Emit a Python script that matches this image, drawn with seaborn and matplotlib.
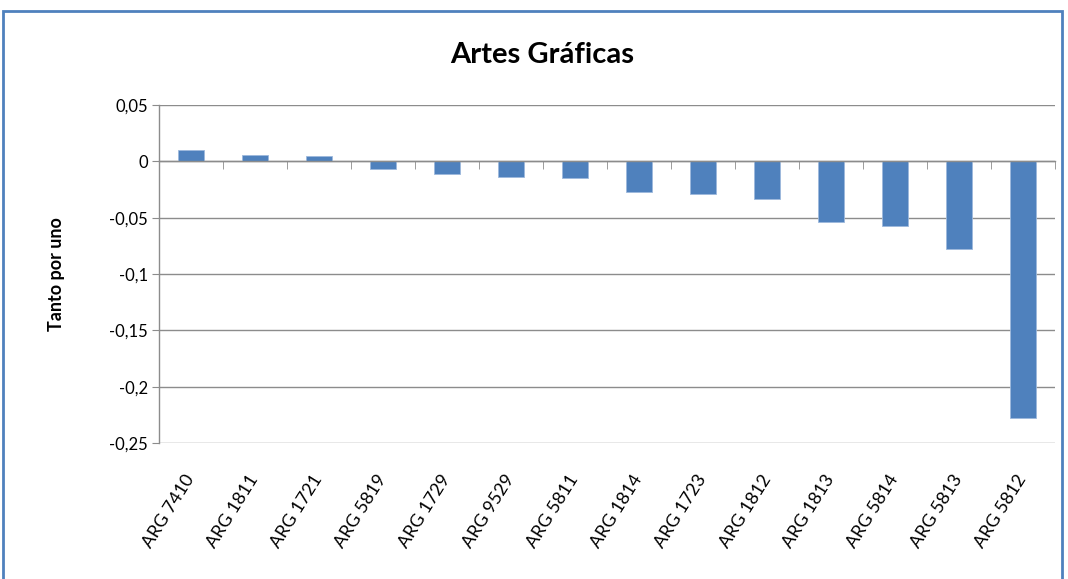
import matplotlib
matplotlib.use("Agg")
import matplotlib.pyplot as plt
from matplotlib.patches import Rectangle
from matplotlib.ticker import FuncFormatter, FixedLocator
import seaborn as sns
import pandas as pd

# ==========================
# DATA
# ==========================

empresas = ["ARG 7410", "ARG 1811", "ARG 1721", "ARG 5819", "ARG 1729",
            "ARG 9529", "ARG 5811", "ARG 1814", "ARG 1723", "ARG 1812",
            "ARG 1813", "ARG 5814", "ARG 5813", "ARG 5812"]
tanto_por_uno = [0.0098, 0.0053, 0.0045, -0.0070, -0.0113,
                 -0.0136, -0.0145, -0.0275, -0.0287, -0.0337,
                 -0.0540, -0.0570, -0.0775, -0.2275]
y_ticks = [0.05, 0, -0.05, -0.1, -0.15, -0.2, -0.25]

df = pd.DataFrame({"empresa": empresas, "valor": tanto_por_uno})

# ==========================
# PLOT
# ==========================

sns.set_style("white")
plt.rcParams["font.family"] = ["Lato", "DejaVu Sans"]
plt.rcParams["text.color"] = "black"
plt.rcParams["axes.labelcolor"] = "black"
plt.rcParams["xtick.color"] = "black"
plt.rcParams["ytick.color"] = "black"

fig = plt.figure(figsize=(10.68, 5.79), dpi=100)
ax = fig.add_axes([0.1489, 0.2349, 0.8390, 0.5838])

sns.barplot(data=df, x="empresa", y="valor", color="#4F81BD",
            width=0.41, edgecolor="#9DB9DC", linewidth=0.6,
            saturation=1, ax=ax, zorder=3)

ax.set_xlim(-0.5, len(empresas) - 0.5)
ax.set_ylim(min(y_ticks), max(y_ticks))
ax.set_yticks(y_ticks)
ax.yaxis.set_major_formatter(
    FuncFormatter(lambda v, p: "0" if abs(v) < 1e-9 else f"{v:g}".replace(".", ",")))
ax.grid(axis="y", color="#8C8C8C", linewidth=1, zorder=0)
ax.tick_params(axis="y", direction="out", length=5, color="#8C8C8C",
               labelcolor="black", labelsize=12, pad=3, left=True)

for s in ["top", "right"]:
    ax.spines[s].set_visible(False)
ax.spines["left"].set_color("#8C8C8C")
ax.spines["left"].set_linewidth(1)

# eje de categorías cruzando en cero
ax.spines["bottom"].set_position(("data", 0))
ax.spines["bottom"].set_color("#8C8C8C")
ax.spines["bottom"].set_linewidth(1)
ax.spines["bottom"].set_zorder(4)
ax.xaxis.set_minor_locator(FixedLocator([i + 0.5 for i in range(len(empresas))]))
ax.tick_params(axis="x", which="minor", direction="out", length=6,
               color="#8C8C8C", bottom=True)
ax.tick_params(axis="x", which="major", length=0, labelbottom=False)
ax.set_xlabel("")

# etiquetas de categorías abajo
sec = ax.secondary_xaxis("bottom")
sec.set_xticks(range(len(empresas)))
sec.set_xticklabels(empresas, rotation=58, ha="right", va="center",
                    rotation_mode="anchor", fontsize=13, color="black")
sec.tick_params(length=0, pad=24)
sec.spines["bottom"].set_visible(False)

ax.set_ylabel("Tanto por uno", fontsize=13, fontweight="bold", labelpad=32)
fig.text(0.508, 0.905, "Artes Gráficas", ha="center", va="center",
         fontsize=21, fontweight="bold")

# marco del gráfico
fig.patches.append(Rectangle((3 / 1068, -0.05), 1059 / 1068, 1.05 - 11 / 579,
                             transform=fig.transFigure, fill=False,
                             edgecolor="#4F81BD", linewidth=2))

plt.savefig("out.png", dpi=100)
plt.close()
